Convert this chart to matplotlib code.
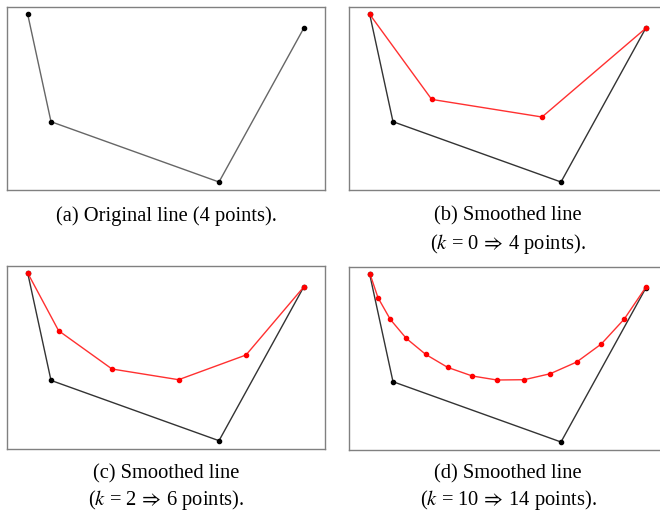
import matplotlib
matplotlib.use("Agg")
import matplotlib.pyplot as plt

plt.rcParams['font.family'] = ['Liberation Serif', 'DejaVu Serif']
plt.rcParams['mathtext.fontset'] = 'stix'

# original polyline (same in every panel)
orig_x = [20.4, 43.7, 211.7, 296.4]
orig_y = [175.7, 68.3, 8.0, 161.7]

# smoothed polylines
b_x = [20.4, 82.4, 192.7, 296.4]
b_y = [175.7, 90.6, 73.0, 161.7]

c_x = [20.4, 51.3, 104.7, 171.3, 238.7, 296.4]
c_y = [175.7, 118.0, 79.7, 69.0, 93.7, 161.7]

d_x = [20.7, 28.7, 41.0, 57.0, 76.4, 98.4, 123.0, 147.7, 175.0, 201.0,
       227.4, 252.0, 275.0, 296.4]
d_y = [176.0, 152.3, 130.6, 111.6, 95.6, 82.6, 74.0, 70.0, 70.3, 76.3,
       88.0, 106.0, 131.0, 162.6]

captions = [
    ["(a) Original line (4 points)."],
    ["(b) Smoothed line", r"($k$ = 0 $\!\Rightarrow\!$ 4 points)."],
    ["(c) Smoothed line", r"($k$ = 2 $\!\Rightarrow\!$ 6 points)."],
    ["(d) Smoothed line", r"($k$ = 10 $\!\Rightarrow\!$ 14 points)."],
]
smoothed = [None, (b_x, b_y), (c_x, c_y), (d_x, d_y)]

W, H = 660, 512
# panel boxes in pixels: left, top
boxes = [(7.3, 7.3), (349.3, 7.3), (7.3, 266.0), (349.3, 267.3)]
bw, bh = 317.7, 182.7
cap_y = [(216,), (216, 243.5), (474, 500.5), (474, 500.5)]

fig = plt.figure(figsize=(6.6, 5.12), dpi=100)

for i in range(4):
    left, top = boxes[i]
    ax = fig.add_axes([left / W, (H - top - bh) / H, bw / W, bh / H])
    ax.set_xlim(0, bw)
    ax.set_ylim(0, bh)
    ax.set_xticks([])
    ax.set_yticks([])
    for s in ax.spines.values():
        s.set_color('#808080')
        s.set_linewidth(1.0)
    lc = '#666666' if i == 0 else '#333333'
    ax.plot(orig_x, orig_y, color=lc, lw=1.0, zorder=2)
    ax.plot(orig_x, orig_y, 'o', color='black', ms=3.0, zorder=3)
    if smoothed[i] is not None:
        sx, sy = smoothed[i]
        ax.plot(sx, sy, color='#ff3030', lw=1.0, zorder=4)
        ax.plot(sx, sy, 'o', color='red', ms=3.0, zorder=5)
    cx = left + bw / 2
    for txt, yy in zip(captions[i], cap_y[i]):
        fig.text(cx / W, 1 - yy / H, txt, ha='center', va='center',
                 fontsize=14.8, color='black')

fig.savefig("out.png", dpi=100)
